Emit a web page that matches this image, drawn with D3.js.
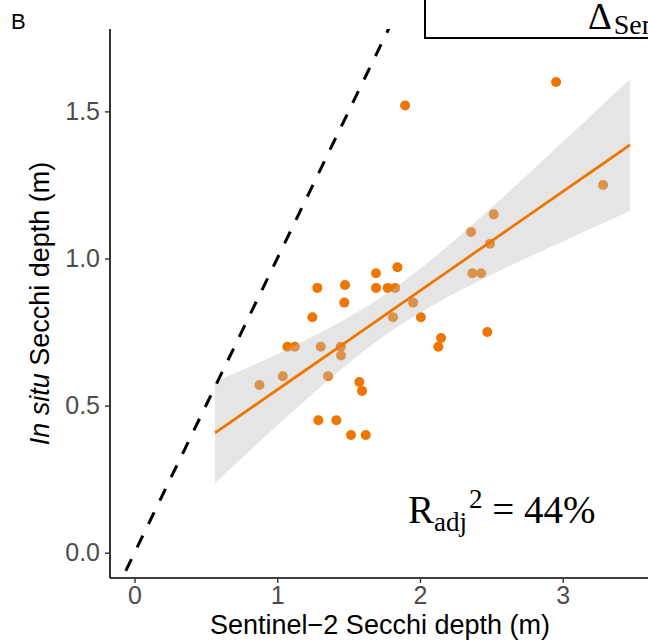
<!DOCTYPE html>
<html>
<head>
<meta charset="utf-8">
<script src="https://cdn.jsdelivr.net/npm/d3@7"></script>
<style>
  html, body { margin: 0; padding: 0; background: #fff; overflow: hidden; }
  svg { display: block; }
</style>
</head>
<body>
<svg id="chart" width="648" height="642"></svg>
<script>
// ---- data ----
const sentinelX = [0.875,1.039,1.071,1.123,1.246,1.281,1.305,1.288,1.414,1.356,1.445,1.447,1.470,1.475,1.517,1.620,1.575,1.594,1.692,1.692,1.774,1.826,1.842,1.811,1.952,2.006,1.896,2.148,2.129,2.358,2.367,2.428,2.491,2.517,2.472,2.954,3.283];
const inSituY   = [0.57,0.60,0.70,0.70,0.80,0.90,0.70,0.45,0.45,0.60,0.70,0.67,0.85,0.91,0.40,0.40,0.58,0.55,0.95,0.90,0.90,0.90,0.97,0.80,0.85,0.80,1.52,0.73,0.70,1.09,0.95,0.95,1.05,1.15,0.75,1.60,1.25];

// fitted line and its confidence band
const fitX  = [0.564,0.9,1.2,1.5,1.8,2.1,2.4,2.7,3.0,3.25,3.472];
const fitY  = [0.407,0.520,0.621,0.722,0.823,0.924,1.025,1.126,1.227,1.311,1.386];
const fitLo = [0.237,0.388,0.519,0.644,0.754,0.844,0.921,0.991,1.058,1.113,1.161];
const fitHi = [0.582,0.652,0.723,0.800,0.892,1.004,1.129,1.261,1.396,1.509,1.610];

// 1:1 reference line
const oneToOneX = [-0.3, 2.2];

const xTicks = [0, 1, 2, 3];
const xTickLabels = ["0", "1", "2", "3"];
const yTicks = [0, 0.5, 1.0, 1.5];
const yTickLabels = ["0.0", "0.5", "1.0", "1.5"];

const xTitle = "Sentinel\u22122 Secchi depth (m)";
const panelTag = "B";
const r2Value = "44%";

// ---- layout ----
const ORANGE = "#EE7600";
const pLeft = 110, pRight = 650, pTop = 29, pBottom = 578;

const svg = d3.select("#chart");

const x = d3.scaleLinear().domain([-0.172, 3.612]).range([pLeft, pRight]);
const y = d3.scaleLinear().domain([-0.086, 1.780]).range([pBottom, pTop]);

svg.append("defs").append("clipPath").attr("id", "panel")
  .append("rect").attr("x", pLeft).attr("y", pTop)
  .attr("width", pRight - pLeft).attr("height", pBottom - pTop);

const plot = svg.append("g").attr("clip-path", "url(#panel)");

// points
const pts = sentinelX.map((v, i) => ({x: v, y: inSituY[i]}));
plot.selectAll("circle.pt").data(pts).join("circle")
  .attr("class", "pt")
  .attr("cx", d => x(d.x)).attr("cy", d => y(d.y))
  .attr("r", 5).attr("fill", ORANGE);

// confidence band (drawn over points)
const band = fitX.map((v, i) => ({x: v, lo: fitLo[i], hi: fitHi[i], m: fitY[i]}));
plot.append("path").datum(band)
  .attr("d", d3.area().x(d => x(d.x)).y0(d => y(d.lo)).y1(d => y(d.hi)).curve(d3.curveMonotoneX))
  .attr("fill", "#BEBEBE").attr("fill-opacity", 0.4);

// fitted line
plot.append("path").datum(band)
  .attr("d", d3.line().x(d => x(d.x)).y(d => y(d.m)))
  .attr("fill", "none").attr("stroke", ORANGE).attr("stroke-width", 2.8);

// 1:1 dashed line
plot.append("path").datum(oneToOneX)
  .attr("d", d3.line().x(d => x(d)).y(d => y(d)))
  .attr("fill", "none").attr("stroke", "#000").attr("stroke-width", 3)
  .attr("stroke-dasharray", "13,13");

// axes
const xAxis = svg.append("g").attr("transform", `translate(0,${pBottom})`)
  .call(d3.axisBottom(x).tickValues(xTicks).tickFormat((d, i) => xTickLabels[i]).tickSize(5).tickSizeOuter(0).tickPadding(3));
const yAxis = svg.append("g").attr("transform", `translate(${pLeft},0)`)
  .call(d3.axisLeft(y).tickValues(yTicks).tickFormat((d, i) => yTickLabels[i]).tickSize(5).tickSizeOuter(0).tickPadding(5));

[xAxis, yAxis].forEach(g => {
  g.select(".domain").attr("stroke", "#000").attr("stroke-width", 1.6);
  g.selectAll(".tick line").attr("stroke", "#333").attr("stroke-width", 1.4);
  g.selectAll(".tick text").attr("fill", "#4D4D4D")
    .style("font-family", "'Liberation Sans', Arial, sans-serif").style("font-size", "25px");
});
xAxis.select(".domain").attr("d", `M${pLeft},0H${pRight}`);
yAxis.select(".domain").attr("d", `M0,${pTop}V${pBottom}`);

// axis titles
svg.append("text")
  .attr("x", (pLeft + pRight) / 2).attr("y", 634)
  .attr("text-anchor", "middle")
  .style("font-family", "'Liberation Sans', Arial, sans-serif").style("font-size", "27px")
  .attr("fill", "#000").text(xTitle);

const yt = svg.append("text")
  .attr("transform", `translate(49,${(pTop + pBottom) / 2}) rotate(-90)`)
  .attr("text-anchor", "middle")
  .style("font-family", "'Liberation Sans', Arial, sans-serif").style("font-size", "27px")
  .attr("fill", "#000");
yt.append("tspan").style("font-style", "italic").text("In situ");
yt.append("tspan").text(" Secchi depth (m)");

// panel tag
svg.append("text").attr("x", 11).attr("y", 29)
  .style("font-family", "'Liberation Sans', Arial, sans-serif").style("font-size", "22px")
  .attr("fill", "#000").text(panelTag);

// R^2 annotation
const serif = "'Liberation Serif', 'Times New Roman', serif";
const r2 = svg.append("text").attr("x", 408).attr("y", 523)
  .style("font-family", serif).style("font-size", "39px").attr("fill", "#000");
r2.append("tspan").text("R");
r2.append("tspan").attr("dy", 8).style("font-size", "27px").text("adj");
r2.append("tspan").attr("dy", -23).attr("dx", 2).style("font-size", "27px").text("2");
r2.append("tspan").attr("dy", 15).text(" = " + r2Value);

// partially visible legend box from neighbouring panel
svg.append("rect").attr("x", 425).attr("y", -20).attr("width", 400).attr("height", 58)
  .attr("fill", "#fff").attr("stroke", "#000").attr("stroke-width", 2);
const dt = svg.append("text").attr("x", 588).attr("y", 29)
  .style("font-family", serif).style("font-size", "37px").attr("fill", "#000");
dt.append("tspan").text("\u0394");
dt.append("tspan").attr("dy", 5).attr("dx", 2).style("font-size", "28px").text("Sentinel\u22122");
</script>
</body>
</html>
